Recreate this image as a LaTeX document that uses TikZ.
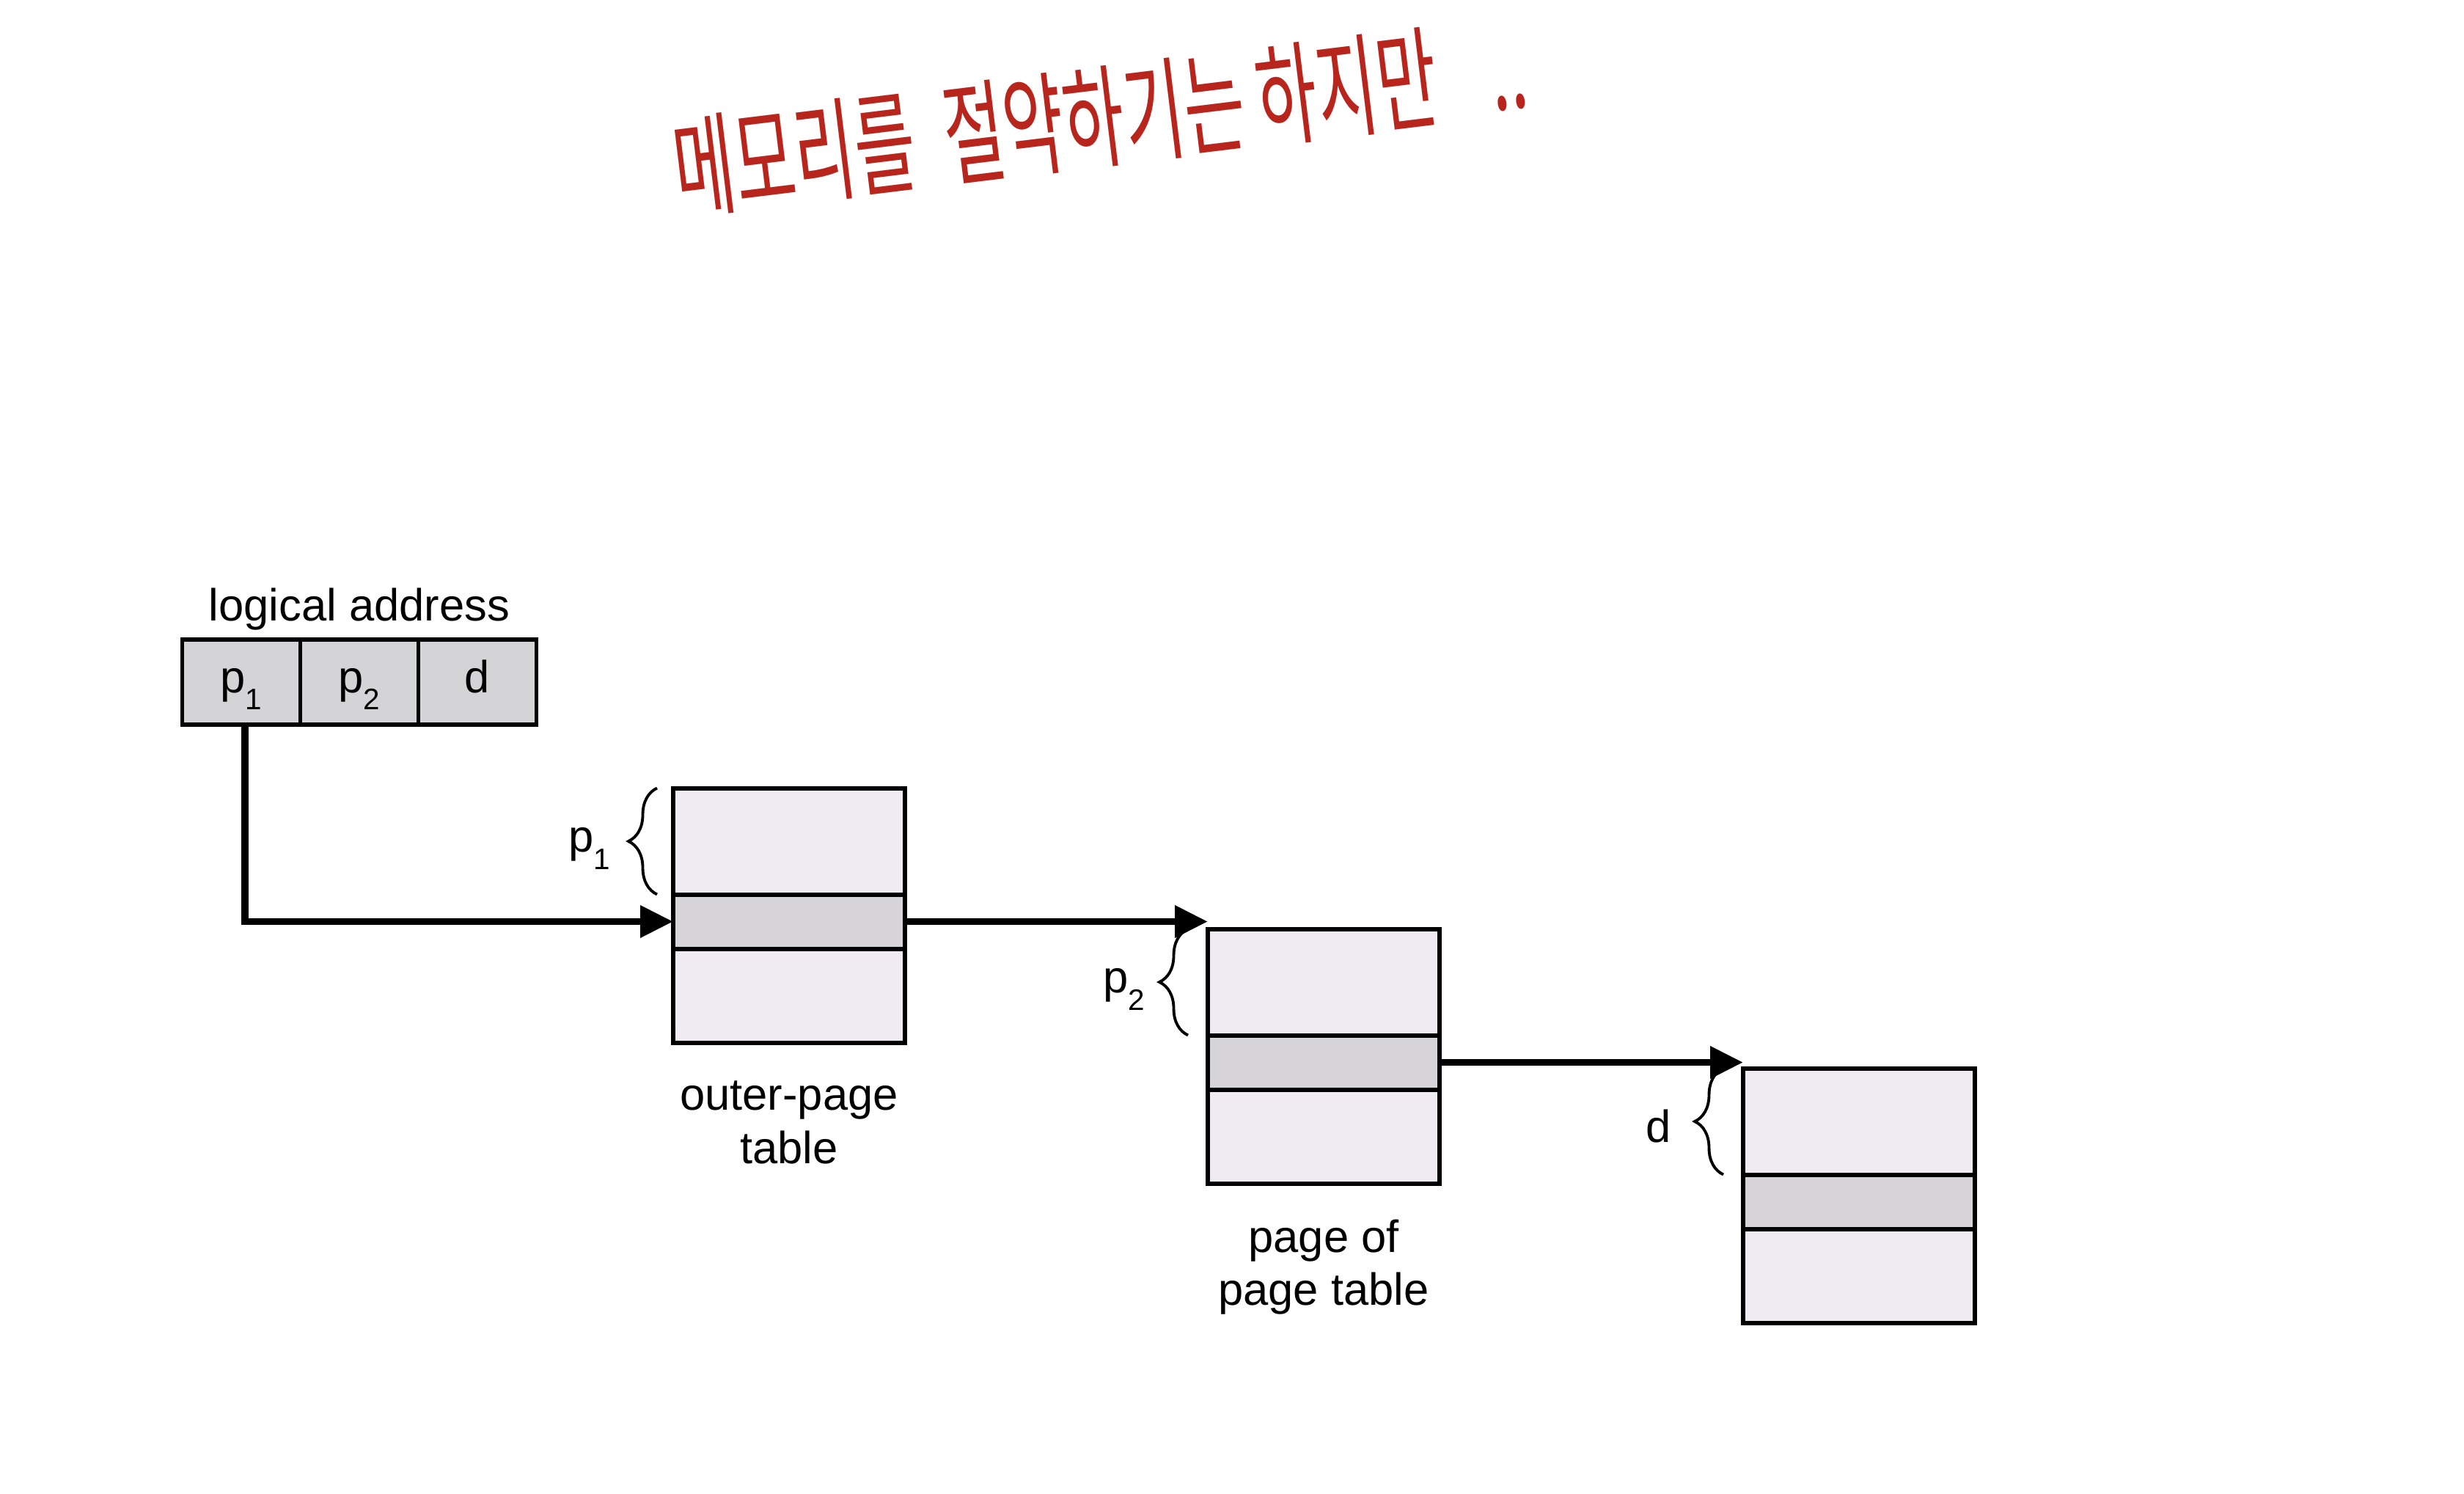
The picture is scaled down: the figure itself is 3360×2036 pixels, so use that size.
\documentclass[tikz,border=0pt]{standalone}
\usepackage{fontspec}
\setmainfont{Liberation Sans}
\newfontfamily\hanfont{Noto Sans CJK KR}
\usepackage{xcolor}
\usetikzlibrary{arrows.meta,positioning,decorations.pathreplacing}

\definecolor{cellgray}{HTML}{D4D4D6}
\definecolor{rowlav}{HTML}{F0EBF2}
\definecolor{rowsel}{HTML}{D6D4D8}
\definecolor{penred}{HTML}{B8251C}

\newcommand{\lowidx}[1]{\raisebox{-0.38em}{\fontsize{11.5}{11.5}\selectfont #1}}

\tikzset{
  addr/.style={draw, line width=1.7pt, fill=cellgray, minimum width=16.1mm, minimum height=11.6mm,
    inner sep=0pt, outer sep=0pt, text height=0.9em, text depth=0.1em, font=\fontsize{17.5}{20.5}\selectfont},
  toprow/.style={draw, line width=1.7pt, fill=rowlav, minimum width=31.6mm, minimum height=14.5mm, inner sep=0pt, outer sep=0pt},
  selrow/.style={toprow, fill=rowsel, minimum height=7.4mm},
  botrow/.style={toprow, minimum height=12.8mm},
  link/.style={line width=2.8pt, -{Triangle[length=4.5mm,width=4.2mm]}},
  brc/.style={decorate, decoration={brace, amplitude=3.9mm}, line width=1.1pt},
  lbl/.style={align=center, inner sep=0pt, font=\fontsize{17.5}{20.5}\selectfont}
}

\begin{document}
\begin{tikzpicture}[x=0.1mm, y=-0.1mm]
\useasboundingbox (0,0) rectangle (3360,2036);

% 메모
\node[text=penred, rotate=7, font=\hanfont\fontsize{25.5}{27}\selectfont] (memo) at (1500,160)
  {\scalebox{1}[1.7]{메모리를\hspace{0.45em}절약하기는\hspace{0.2em}하지만\hspace{0.8em}..}};

% 논리 주소
\node[addr] (la1) at (329,930) {p\lowidx{1}};
\node[addr, right=0pt of la1] (la2) {p\lowidx{2}};
\node[addr, right=0pt of la2] (la3) {d};
\node[lbl, above=1.2mm of la2] (latext) {logical address};

% outer-page table
\node[toprow] (ot1) at (1076,1147) {};
\node[selrow, below=0pt of ot1] (ot2) {};
\node[botrow, below=0pt of ot2] (ot3) {};
\node[lbl, below=5.2mm of ot3] (otl) {outer-page\\table};

% page of page table
\node[toprow] (pt1) at (1805,1339) {};
\node[selrow, below=0pt of pt1] (pt2) {};
\node[botrow, below=0pt of pt2] (pt3) {};
\node[lbl, below=4.9mm of pt3] (ptl) {page of\\page table};

% 마지막 페이지
\node[toprow] (ft1) at (2535,1529) {};
\node[selrow, below=0pt of ft1] (ft2) {};
\node[botrow, below=0pt of ft2] (ft3) {};

% 중괄호
\draw[brc] ([xshift=-2.2mm]ot1.south west) -- ([xshift=-2.2mm]ot1.north west);
\draw[brc] ([xshift=-2.7mm]pt1.south west) -- ([xshift=-2.7mm]pt1.north west);
\draw[brc] ([xshift=-2.7mm]ft1.south west) -- ([xshift=-2.7mm]ft1.north west);
\node[lbl, anchor=east, yshift=-1mm] (bp1) at ([xshift=-8.5mm]ot1.west) {p\lowidx{1}};
\node[lbl, anchor=east, yshift=-1mm] (bp2) at ([xshift=-8.5mm]pt1.west) {p\lowidx{2}};
\node[lbl, anchor=east, yshift=-0.6mm] (bd) at ([xshift=-9.8mm]ft1.west) {d};

% 화살표
\draw[link] ([xshift=0.5mm]la1.south) |- (ot2.west);
\draw[link] (ot2.east) -- (ot2.east -| pt1.west);
\draw[link] (pt2.east) -- (pt2.east -| ft1.west);
\end{tikzpicture}
\end{document}
